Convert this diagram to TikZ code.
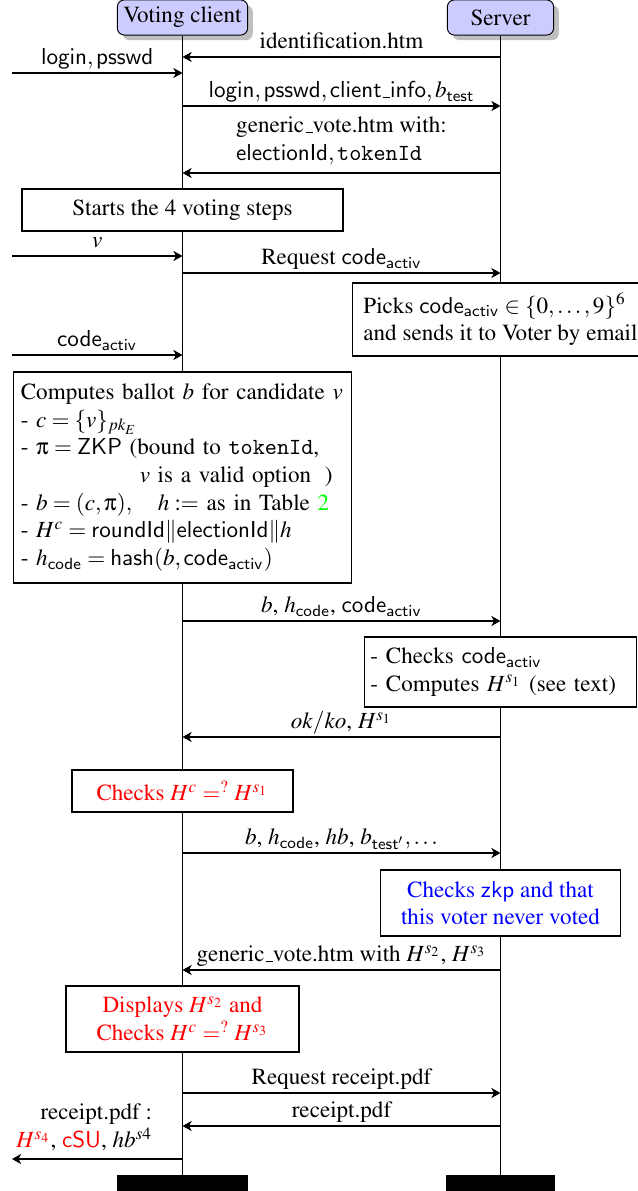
\documentclass[tikz,border=0pt]{standalone}
\usepackage[OT1]{fontenc}
\usepackage{mathptmx}
\usepackage[Symbol]{upgreek}
\usetikzlibrary{shadows,arrows.meta}

\newcommand{\codeactiv}{\mathsf{code}_{\mathsf{activ}}}
\newcommand{\hcode}{h_{\mathsf{code}}}

\begin{document}
\begin{tikzpicture}[x=0.433pt,y=-0.433pt,
    actor/.style={draw,fill=blue!20,rounded corners=3pt,drop shadow,minimum width=46pt,minimum height=15.2pt,inner xsep=2.6pt,inner ysep=2pt},
    threadend/.style={fill=black,inner sep=0pt,minimum height=6.9pt},
    lifeline/.style={line width=0.8pt},
    actbox/.style={draw,fill=white,line width=0.5pt},
    msg/.style={line width=0.45pt,-{Stealth[length=4pt,width=4.4pt,inset=1.2pt]}},
    msglabel/.style={above,text depth=0pt}]
    \pgfmathsetmacro{\clientx}{182.5}
    \pgfmathsetmacro{\serverx}{500.5}
    \pgfmathsetmacro{\userx}{12}
    \useasboundingbox (0,0) rectangle (637,1191);
    \node[actor] (client) at (\clientx,17.5) {Voting client};
    \node[actor] (server) at (\serverx,17.5) {Server};
    \node[threadend,minimum width=56.7pt] (clientend) at (\clientx,1183) {};
    \node[threadend,minimum width=46.8pt] (serverend) at (\serverx,1183) {};
    \draw[lifeline] (client) -- (clientend);
    \draw[lifeline] (server) -- (serverend);
    % message heights on the two lifelines
    \foreach \m/\y in {ident/57,login/106,page/173,req/273,ballot/621,okko/737,cast/853,back/970,askpdf/1093,pdf/1126}{
        \coordinate (c-\m) at (\clientx,\y);
        \coordinate (s-\m) at (\serverx,\y);
    }
    \foreach \m/\y in {cred/73,vote/256,code/355,out/1159}{
        \coordinate (c-\m) at (\clientx,\y);
        \coordinate (u-\m) at (\userx,\y);
    }
    \node[actbox,minimum width=139pt,minimum height=18.2pt] (start) at (\clientx,210) {Starts the 4 voting steps};
    \node[actbox,minimum width=126.9pt,minimum height=31.6pt,inner xsep=4.8pt,align=left] (pick) at (\serverx,319.5)
        {Picks $\codeactiv\in\{0,\ldots,9\}^6$\\and sends it to Voter by email};
    \node[actbox,text width=140pt,minimum height=91.3pt,align=left] (compute) at (\clientx,477.5)
    {
        Computes ballot $b$ for candidate $v$\\
        - $c=\{v\}_{pk_E}$\\
        - $\uppi=\mathsf{ZKP}$ (bound to $\mathtt{tokenId}$,\\
        \hspace*{51.5pt}$v$ is a valid option\hspace{6pt})\\
        - $b=(c,\uppi),\quad h:=$ as in Table \textcolor{green}{2}\\
        - $H^c=\mathsf{roundId}\|\mathsf{electionId}\|h$\\
        - $\hcode=\mathsf{hash}(b,\codeactiv)$
    };
    \node[actbox,text width=112.6pt,inner xsep=2.6pt,minimum height=30.3pt,align=left] (check) at (\serverx,672)
        {- Checks $\codeactiv$\\- Computes $H^{s_1}$ (see text)};
    \node[actbox,minimum width=95.7pt,minimum height=18.2pt,text=red] (hashone) at (\clientx,791) {Checks $H^c=^?H^{s_1}$};
    \node[actbox,minimum width=103.9pt,minimum height=28.6pt,text=blue,align=center] (zkp) at (\serverx,903)
        {Checks $\mathsf{zkp}$ and that\\this voter never voted};
    \node[actbox,minimum width=100.9pt,minimum height=28.6pt,text=red,align=center] (hashtwo) at (\clientx,1019)
        {Displays $H^{s_2}$ and\\Checks $H^c=^?H^{s_3}$};
    \draw[msg] (s-ident) -- node[msglabel] {identification.htm} (c-ident);
    \draw[msg] (u-cred) -- node[msglabel] {$\mathsf{login},\mathsf{psswd}$} (c-cred);
    \draw[msg] (c-login) -- node[msglabel] {$\mathsf{login},\mathsf{psswd},\mathsf{client\_info},b_{\mathsf{test}}$} (s-login);
    \draw[msg] (s-page) -- node[above,align=left] {generic\_vote.htm with:\\$\mathsf{electionId},\mathtt{tokenId}$} (c-page);
    \draw[msg] (u-vote) -- node[msglabel] {$v$} (c-vote);
    \draw[msg] (c-req) -- node[msglabel] {Request $\codeactiv$} (s-req);
    \draw[msg] (u-code) -- node[msglabel] {$\codeactiv$} (c-code);
    \draw[msg] (c-ballot) -- node[msglabel] {$b$, $\hcode$, $\codeactiv$} (s-ballot);
    \draw[msg] (s-okko) -- node[msglabel] {$ok/ko$, $H^{s_1}$} (c-okko);
    \draw[msg] (c-cast) -- node[msglabel] {$b$, $\hcode$, $hb$, $b_{\mathsf{test}'},\ldots$} (s-cast);
    \draw[msg] (s-back) -- node[msglabel] {generic\_vote.htm with $H^{s_2}$, $H^{s_3}$} (c-back);
    \draw[msg] (c-askpdf) -- node[msglabel] {Request receipt.pdf} (s-askpdf);
    \draw[msg] (s-pdf) -- node[msglabel] {receipt.pdf} (c-pdf);
    \draw[msg] (c-out) -- node[pos=0.13,anchor=south east,align=right]
        {receipt.pdf :\\\textcolor{red}{$H^{s_4}$}, \textcolor{red}{$\mathsf{cSU}$}, $hb^{s4}$} (u-out);
\end{tikzpicture}
\end{document}
